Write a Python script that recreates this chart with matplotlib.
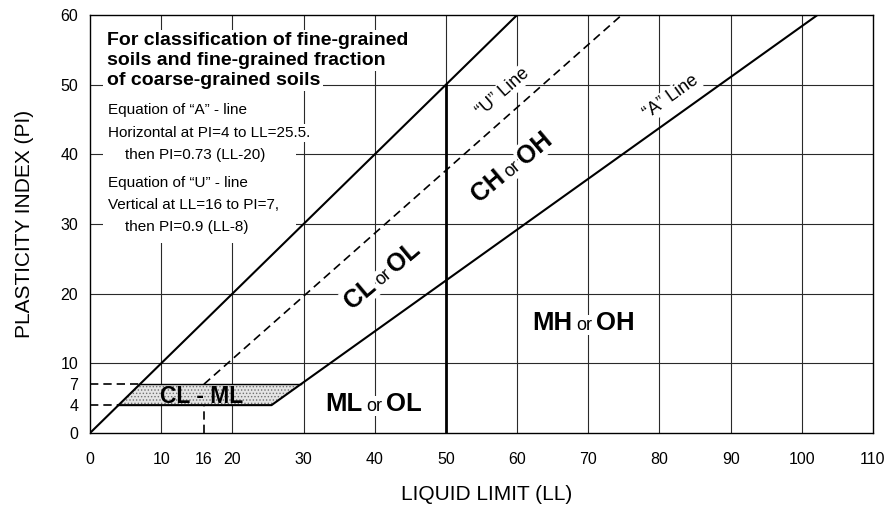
import matplotlib
matplotlib.use('Agg')
import numpy as np
import matplotlib.pyplot as plt
from matplotlib.patches import Rectangle
from matplotlib.transforms import offset_copy

plt.rcParams['font.family'] = ['Liberation Sans', 'DejaVu Sans']
plt.rcParams['hatch.color'] = '#707070'
plt.rcParams['hatch.linewidth'] = 0.6

# axis ticks and grid
ll_ticks = [0, 10, 16, 20, 30, 40, 50, 60, 70, 80, 90, 100, 110]
pi_ticks = [0, 4, 7, 10, 20, 30, 40, 50, 60]
ll_grid = [10, 20, 30, 40, 50, 60, 70, 80, 90, 100]
pi_grid = [10, 20, 30, 40, 50]

# chart lines (LL, PI)
ll_equal_ll = [0, 60]
ll_equal_pi = [0, 60]
a_line_ll = [4, 25.5, 102.2]
a_line_pi = [4, 4, 60]
u_line_ll = [16, 74.7]
u_line_pi = [7, 60]
ll50_ll = [50, 50]
ll50_pi = [0, 50]

# CL-ML zone
zone_ll = [4, 25.5, 29.6, 7]
zone_pi = [4, 4, 7, 7]

# dashed guides
guide4_ll = [0, 4]
guide4_pi = [4, 4]
guide7_ll = [0, 7]
guide7_pi = [7, 7]
guide16_ll = [16, 16]
guide16_pi = [0, 4]

title_lines = ["For classification of fine-grained",
               "soils and fine-grained fraction",
               "of coarse-grained soils"]
a_eq_lines = ["Equation of \u201cA\u201d - line",
              "Horizontal at PI=4 to LL=25.5.",
              "    then PI=0.73 (LL-20)"]
u_eq_lines = ["Equation of \u201cU\u201d - line",
              "Vertical at LL=16 to PI=7,",
              "    then PI=0.9 (LL-8)"]

fig = plt.figure(figsize=(8.94, 5.21), dpi=100)
ax = fig.add_axes([0.1007, 0.1689, 0.8758, 0.8023])
ax.set_xlim(0, 110)
ax.set_ylim(0, 60)
ax.set_xticks(ll_ticks)
ax.set_yticks(pi_ticks)
ax.set_xticks(ll_grid, minor=True)
ax.set_yticks(pi_grid, minor=True)
ax.xaxis.remove_overlapping_locs = False
ax.yaxis.remove_overlapping_locs = False
ax.tick_params(which='both', length=0, labelsize=11.5)
ax.tick_params(axis='x', pad=13.5)
ax.tick_params(axis='y', pad=8.5)
ax.grid(which='minor', color='#2a2a2a', linewidth=0.8)
ax.set_axisbelow(True)
for sp in ax.spines.values():
    sp.set_linewidth(1.0)

ax.set_xlabel('LIQUID LIMIT (LL)', fontsize=15)
ax.set_ylabel('PLASTICITY INDEX (PI)', fontsize=15)
ax.xaxis.set_label_coords(0.507, -0.125)
ax.yaxis.set_label_coords(-0.071, 0.5)

# white area behind the notes
ax.add_patch(Rectangle((1.8, 27.3), 27.2, 30.0, facecolor='white',
                       edgecolor='none', zorder=1))

# lines
ax.plot(ll_equal_ll, ll_equal_pi, color='black', lw=1.5, zorder=4)
ax.plot(a_line_ll, a_line_pi, color='black', lw=1.5, zorder=4)
ax.plot(u_line_ll, u_line_pi, color='black', lw=1.2, ls=(0, (5, 3)), zorder=4)
ax.plot(ll50_ll, ll50_pi, color='black', lw=2.0, zorder=4)
for gx, gy in [(guide4_ll, guide4_pi), (guide7_ll, guide7_pi), (guide16_ll, guide16_pi)]:
    ax.plot(gx, gy, color='black', lw=1.2, ls=(0, (5, 3)), zorder=4)

ax.fill(zone_ll, zone_pi, facecolor='#e4e4e4', hatch='.....',
        edgecolor='#707070', linewidth=0, zorder=3)
ax.plot(zone_ll[2:], zone_pi[2:], color='black', lw=1.0, zorder=4)

white = dict(facecolor='white', edgecolor='none', pad=1.5)

# notes block
for i, s in enumerate(title_lines):
    ax.text(2.4, 56.3 - i * 2.85, s, fontsize=14, fontweight='bold',
            va='center', ha='left', bbox=white, zorder=3)
for i, s in enumerate(a_eq_lines):
    ax.text(2.5, 46.3 - i * 3.2, s, fontsize=11, va='center', ha='left',
            bbox=white, zorder=3)
for i, s in enumerate(u_eq_lines):
    ax.text(2.5, 35.9 - i * 3.2, s, fontsize=11, va='center', ha='left',
            bbox=white, zorder=3)


def mixed_label(x, y, pieces, angle=0, gap=2.5):
    renderer = fig.canvas.get_renderer()
    items = []
    for s, size, bold in pieces:
        t = ax.text(x, y, s, fontsize=size,
                    fontweight='bold' if bold else 'normal',
                    ha='left', va='baseline', zorder=3,
                    bbox=dict(facecolor='white', edgecolor='none', pad=1.0))
        w = t.get_window_extent(renderer).width * 72 / fig.dpi
        items.append((t, w))
    total = sum(w for _, w in items) + gap * (len(items) - 1)
    c, sn = np.cos(np.radians(angle)), np.sin(np.radians(angle))
    pos = -total / 2
    for t, w in items:
        t.set_transform(offset_copy(ax.transData, fig=fig, x=pos * c,
                                    y=pos * sn, units='points'))
        t.set_rotation(angle)
        t.set_rotation_mode('anchor')
        pos += w + gap


mixed_label(39.8, 3.2, [("ML", 18.5, True), ("or", 13, False), ("OL", 18.5, True)])
mixed_label(69.3, 14.8, [("MH", 18.5, True), ("or", 13, False), ("OH", 18.5, True)])
mixed_label(41.7, 21.9, [("CL", 18, True), ("or", 13, False), ("OL", 18, True)], angle=40)
mixed_label(59.9, 37.4, [("CH", 18, True), ("or", 13, False), ("OH", 18, True)], angle=40)
mixed_label(58.4, 48.4, [("\u201cU\u201d Line", 13, False)], angle=41.5)
mixed_label(82.0, 47.7, [("\u201cA\u201d Line", 13, False)], angle=35.6)

ax.text(15.7, 4.3, "CL - ML", fontsize=16.5, fontweight='bold',
        ha='center', va='baseline', zorder=5)

fig.savefig('out.png', dpi=100)
